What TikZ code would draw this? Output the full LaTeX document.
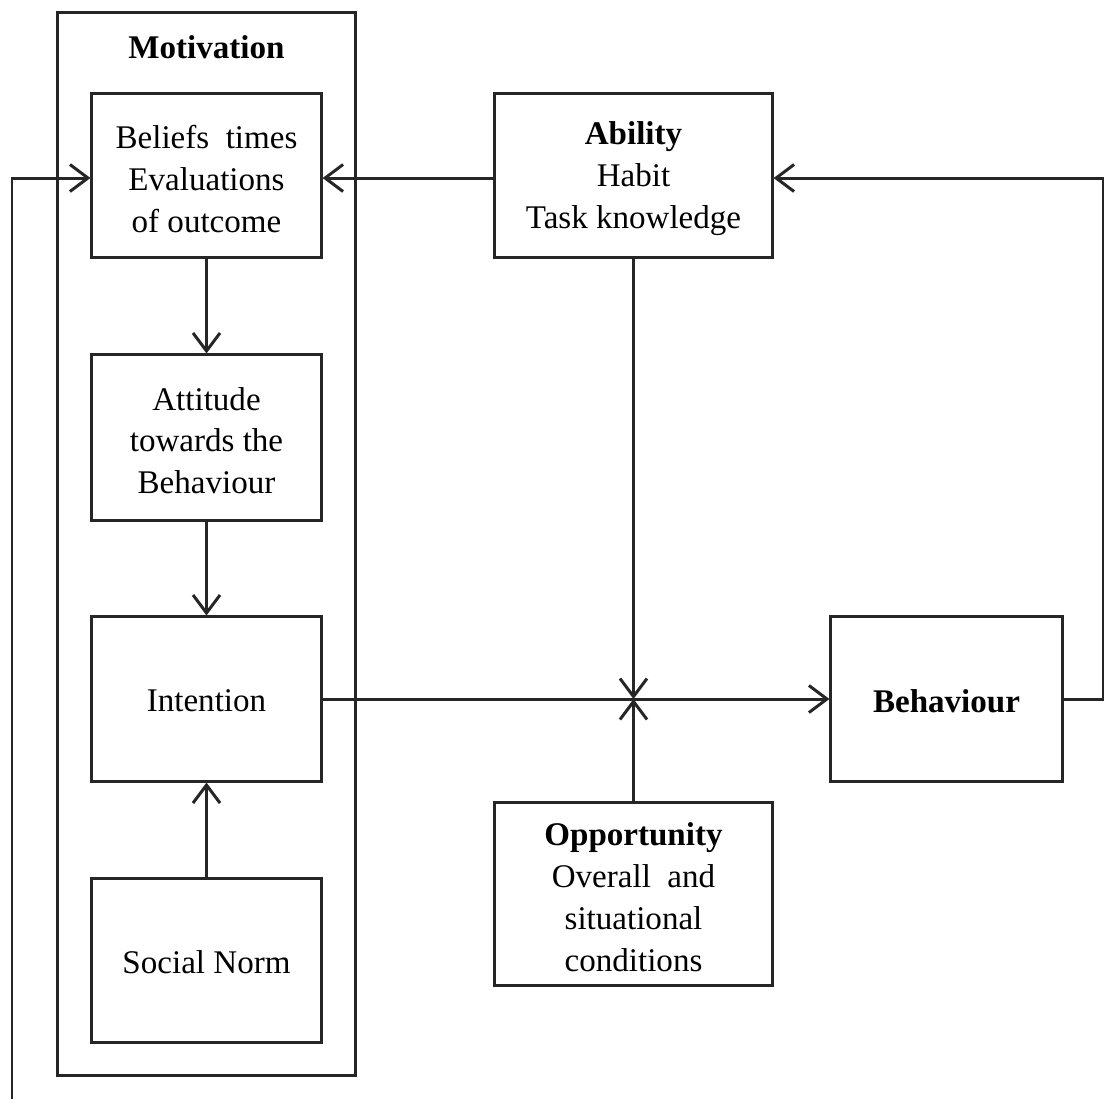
\documentclass[tikz,border=0pt]{standalone}
\usepackage{fontspec}
\setmainfont{Liberation Serif}
\usetikzlibrary{arrows.meta}
\begin{document}
\begin{tikzpicture}[x=0.01cm,y=-0.01cm,
  lw/.style={line width=0.85pt, draw=black!85},
  box/.style={lw, draw, rectangle, inner sep=0pt},
  txt/.style={inner sep=0pt, align=center, font=\fontsize{9.4}{11.9}\selectfont},
  arr/.style={lw, -{Straight Barb[length=1.8mm,width=2.7mm,line width=0.85pt]}}]
\useasboundingbox (0,0) rectangle (1104,1099);
% Motivation frame
\node[box, minimum width=2.97cm, minimum height=10.62cm] (mot) at (206.5,544) {};
\node[txt, font=\fontsize{9.4}{11.9}\selectfont\bfseries] (motl) at (206.5,47) {Motivation};
% boxes
\node[box, minimum width=2.29cm, minimum height=1.63cm] (bel) at (206.5,175.5) {};
\node[txt] (belt) at ([yshift=-0.9pt]bel.center) {Beliefs\ \ times\\Evaluations\\of outcome};
\node[box, minimum width=2.29cm, minimum height=1.65cm] (att) at (206.5,437.5) {};
\node[txt] (attt) at ([yshift=-0.9pt]att.center) {Attitude\\towards the\\Behaviour};
\node[box, minimum width=2.29cm, minimum height=1.64cm] (int) at (206.5,699) {};
\node[txt] (intt) at ([yshift=-0.6pt]int.center) {Intention};
\node[box, minimum width=2.29cm, minimum height=1.63cm] (soc) at (206.5,960.5) {};
\node[txt] (soct) at ([yshift=-0.6pt]soc.center) {Social Norm};
\node[box, minimum width=2.77cm, minimum height=1.63cm] (abi) at (633.5,175.5) {};
\node[txt] (abit) at ([yshift=-0.9pt]abi.center) {\textbf{Ability}\\Habit\\Task knowledge};
\node[box, minimum width=2.77cm, minimum height=1.82cm] (opp) at (633.5,894) {};
\node[txt] (oppt) at ([yshift=-0.9pt]opp.center) {\textbf{Opportunity}\\Overall\ \ and\\situational\\conditions};
\node[box, minimum width=2.31cm, minimum height=1.64cm] (beh) at (946.5,699) {};
\node[txt, font=\fontsize{9.4}{11.9}\selectfont\bfseries] (beht) at ([yshift=-0.6pt]beh.center) {Behaviour};
% junction and feedback corners
\coordinate (j) at (633.5,699);
\coordinate (rb) at (1103,699);
\coordinate (rt) at (1103,178);
\coordinate (lb) at (12,1099);
\coordinate (lt) at (12,178);
% arrows
\draw[arr] (bel) -- (att);
\draw[arr] (att) -- (int);
\draw[arr] (soc) -- (int);
\draw[arr] (abi.west |- lt) -- (bel.east |- lt);
\draw[arr] (abi) -- (j);
\draw[arr] (opp) -- (j);
\draw[arr] (int) -- (beh);
\draw[arr] (beh.east) -- (rb) -- (rt) -- (abi.east |- rt);
\draw[arr] (lb) -- (lt) -- (bel.west |- lt);
\end{tikzpicture}
\end{document}
